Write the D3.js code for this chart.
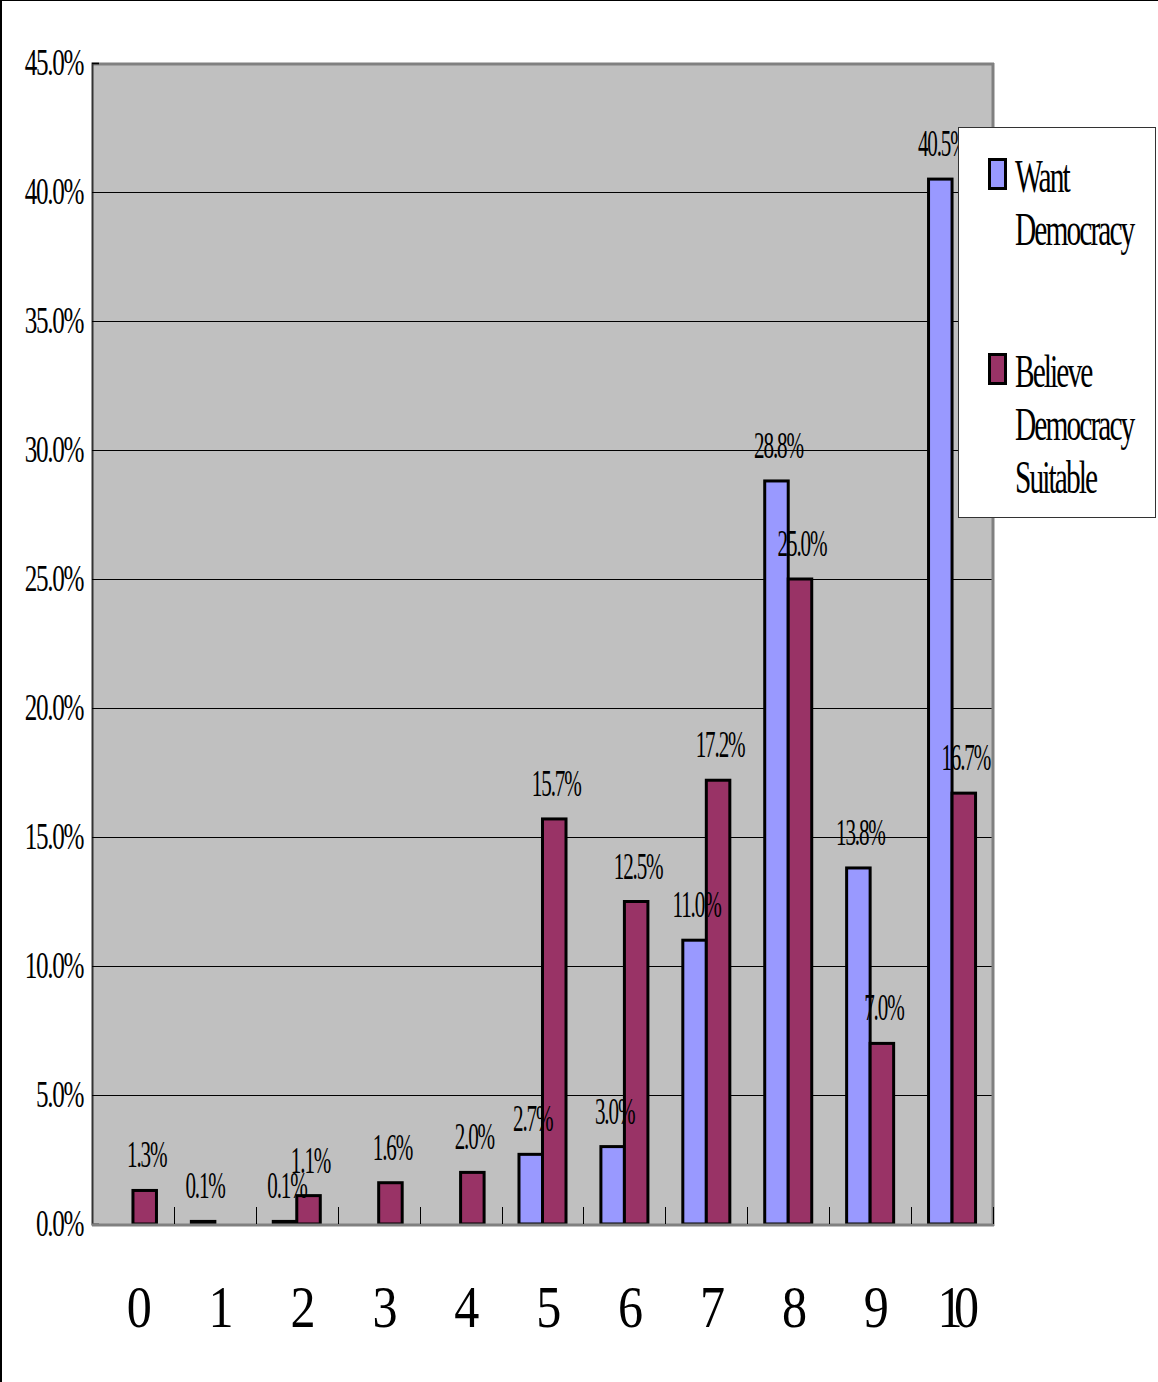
<!DOCTYPE html>
<html lang="en">
<head>
<meta charset="utf-8">
<title>Want vs Believe Democracy</title>
<script src="https://cdn.jsdelivr.net/npm/d3@7"></script>
<style>
  body { margin: 0; background: #fff; }
  text { font-family: "Liberation Serif", "DejaVu Serif", serif; fill: #000; }
</style>
</head>
<body>
<svg id="chart" width="1158" height="1382"></svg>
<script>
// data
var categories = ["0", "1", "2", "3", "4", "5", "6", "7", "8", "9", "10"];
var seriesNames = ["Want Democracy", "Believe Democracy Suitable"];
var wantDemocracy = [0, 0.001, 0.001, 0, 0, 0.027, 0.030, 0.110, 0.288, 0.138, 0.405];
var believeSuitable = [0.013, 0, 0.011, 0.016, 0.020, 0.157, 0.125, 0.172, 0.250, 0.070, 0.167];
var yTicks = [0, 0.05, 0.10, 0.15, 0.20, 0.25, 0.30, 0.35, 0.40, 0.45];
var legendLines = [["Want", "Democracy"], ["Believe", "Democracy", "Suitable"]];
var colors = ["#9999FF", "#993366"];

var svg = d3.select("#chart");

// outer frame (top + left only)
svg.append("line").attr("x1", 0).attr("x2", 1158).attr("y1", 0.5).attr("y2", 0.5).attr("stroke", "#000").attr("stroke-width", 1);
svg.append("line").attr("x1", 1).attr("x2", 1).attr("y1", 0).attr("y2", 1382).attr("stroke", "#000").attr("stroke-width", 2);

var plot = {left: 92, right: 993, top: 63, bottom: 1224};

var x0 = d3.scaleBand().domain(categories).range([plot.left, plot.right]).padding(0);
var x1 = d3.scaleBand().domain(seriesNames)
    .range([x0.bandwidth() * 0.213, x0.bandwidth() * 0.787]);
var y = d3.scaleLinear().domain([0, 0.45]).range([plot.bottom, plot.top]);
var fmt = d3.format(".1%");

// plot background
svg.append("rect")
  .attr("x", plot.left).attr("y", plot.top)
  .attr("width", plot.right - plot.left).attr("height", plot.bottom - plot.top)
  .attr("fill", "#C0C0C0");

// gridlines
svg.append("g").selectAll("line")
  .data(yTicks.slice(1, -1))
  .join("line")
  .attr("x1", plot.left).attr("x2", plot.right)
  .attr("y1", function(d) { return Math.round(y(d)) + 0.5; })
  .attr("y2", function(d) { return Math.round(y(d)) + 0.5; })
  .attr("stroke", "#000").attr("stroke-width", 1);

// plot border: top & right gray
svg.append("line").attr("x1", plot.left).attr("x2", plot.right + 1)
  .attr("y1", plot.top + 1).attr("y2", plot.top + 1).attr("stroke", "#808080").attr("stroke-width", 3);
svg.append("line").attr("x1", plot.right).attr("x2", plot.right)
  .attr("y1", plot.top).attr("y2", plot.bottom + 2).attr("stroke", "#808080").attr("stroke-width", 3);

// y axis
var yAxis = d3.axisRight(y).tickValues(yTicks).tickSize(7).tickFormat("");
var yg = svg.append("g").attr("transform", "translate(" + plot.left + ",0)").call(yAxis);
yg.select(".domain").attr("stroke", "#333").attr("stroke-width", 2);
yg.selectAll(".tick line").attr("stroke", "#000").attr("stroke-width", 1);

svg.append("g").selectAll("text")
  .data(yTicks)
  .join("text")
  .attr("transform", function(d) { return "translate(83," + (y(d) + 12) + ") scale(0.68,1)"; })
  .attr("text-anchor", "end")
  .attr("font-size", 37)
  .attr("letter-spacing", -2)
  .text(function(d) { return fmt(d); });

// bars
var groups = svg.append("g").selectAll("g")
  .data(categories)
  .join("g")
  .attr("transform", function(d) { return "translate(" + x0(d) + ",0)"; });

var barData = function(d, i) {
  return [
    {name: seriesNames[0], value: wantDemocracy[i], color: colors[0]},
    {name: seriesNames[1], value: believeSuitable[i], color: colors[1]}
  ];
};

groups.selectAll("rect")
  .data(barData)
  .join("rect")
  .filter(function(d) { return d.value > 0; })
  .attr("x", function(d) { return x1(d.name); })
  .attr("width", x1.bandwidth())
  .attr("y", function(d) { return y(d.value); })
  .attr("height", function(d) { return Math.max(0, plot.bottom - y(d.value)); })
  .attr("fill", function(d) { return d.color; })
  .attr("stroke", "#000").attr("stroke-width", 3);

// bottom axis line + category ticks
svg.append("line").attr("x1", plot.left).attr("x2", plot.right + 1)
  .attr("y1", plot.bottom + 1).attr("y2", plot.bottom + 1).attr("stroke", "#808080").attr("stroke-width", 3);
svg.append("g").selectAll("line")
  .data(categories.slice(1).concat(["end"]))
  .join("line")
  .attr("x1", function(d, i) { return Math.round(plot.left + x0.step() * (i + 1)) + 0.5; })
  .attr("x2", function(d, i) { return Math.round(plot.left + x0.step() * (i + 1)) + 0.5; })
  .attr("y1", plot.bottom - 17).attr("y2", plot.bottom)
  .attr("stroke", "#000").attr("stroke-width", 1);

// bar labels
groups.selectAll("text.lbl")
  .data(barData)
  .join("text")
  .attr("class", "lbl")
  .filter(function(d) { return d.value > 0; })
  .attr("transform", function(d) {
    return "translate(" + (x1(d.name) + x1.bandwidth() / 2 + 2) + "," + (y(d.value) - 23) + ") scale(0.57,1)";
  })
  .attr("text-anchor", "middle")
  .attr("font-size", 37)
  .attr("letter-spacing", -2)
  .text(function(d) { return fmt(d.value); });

// x category labels
svg.append("g").selectAll("text")
  .data(categories)
  .join("text")
  .attr("transform", function(d) { return "translate(" + (x0(d) + x0.bandwidth() / 2 + 2) + ",1327) scale(0.85,1)"; })
  .attr("text-anchor", "middle")
  .attr("font-size", 59)
  .attr("letter-spacing", -10)
  .text(function(d) { return d; });

// legend
var legend = svg.append("g");
legend.append("rect")
  .attr("x", 958.5).attr("y", 127.5).attr("width", 197).attr("height", 390)
  .attr("fill", "#fff").attr("stroke", "#333").attr("stroke-width", 1);

var legendTop = [158, 353];
legendLines.forEach(function(lines, i) {
  legend.append("rect")
    .attr("x", 989.5).attr("y", legendTop[i] + 1.5).attr("width", 16).attr("height", 29)
    .attr("fill", colors[i]).attr("stroke", "#000").attr("stroke-width", 3);
  lines.forEach(function(t, j) {
    legend.append("text")
      .attr("transform", "translate(1015," + (legendTop[i] + 34 + j * 53) + ") scale(0.64,1)")
      .attr("font-size", 46)
      .attr("letter-spacing", -3)
      .text(t);
  });
});
</script>
</body>
</html>
